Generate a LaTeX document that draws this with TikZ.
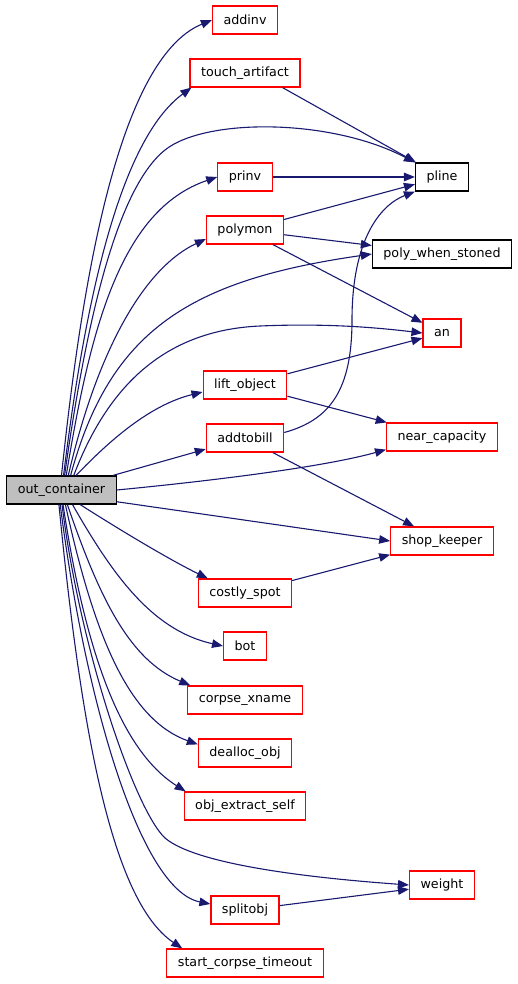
\documentclass[tikz,border=0pt]{standalone}
\usepackage{fontspec}
\setmainfont{DejaVu Sans}
\usetikzlibrary{arrows.meta}
\definecolor{edgeblue}{RGB}{25,25,112}
\definecolor{rootgray}{RGB}{191,191,191}

\begin{document}
\begin{tikzpicture}[
  x=1pt, y=-1pt,
  every node/.style={font=\fontsize{12.7}{15}\selectfont},
  fnbox/.style={rectangle, draw=red, line width=1.2pt, minimum height=28pt,
    inner xsep=11pt, inner ysep=3pt, fill=white},
  extbox/.style={fnbox, draw=black},
  rootbox/.style={fnbox, draw=black, fill=rootgray},
  call/.style={draw=edgeblue, line width=1.1pt,
    -{Triangle[length=11pt,width=8.5pt]}},
]
\useasboundingbox (0,0) rectangle (517,984);

% Caller
\node[rootbox] (oc) at (61.5,490) {out\_container};

% Direct callees
\node[fnbox] (addinv) at (245,20) {addinv};
\node[fnbox] (touchart) at (245,73) {touch\_artifact};
\node[fnbox] (prinv) at (245,177) {prinv};
\node[fnbox] (polymon) at (245,230) {polymon};
\node[fnbox] (liftobj) at (245,385) {lift\_object};
\node[fnbox] (addtobill) at (245,438) {addtobill};
\node[fnbox] (costly) at (245,593) {costly\_spot};
\node[fnbox] (bot) at (245,646) {bot};
\node[fnbox] (corpsex) at (245,700) {corpse\_xname};
\node[fnbox] (dealloc) at (245,753) {dealloc\_obj};
\node[fnbox] (objextract) at (245,806) {obj\_extract\_self};
\node[fnbox] (splitobj) at (245,910) {splitobj};
\node[fnbox] (startcorpse) at (245,963) {start\_corpse\_timeout};

% Shared callees
\node[extbox] (pline) at (442,177) {pline};
\node[extbox] (pws) at (442,254) {poly\_when\_stoned};
\node[fnbox] (an) at (442,333) {an};
\node[fnbox] (nearcap) at (442,437) {near\_capacity};
\node[fnbox] (shopkeeper) at (442,541) {shop\_keeper};
\node[fnbox] (weight) at (442,885) {weight};

% Upper fan from out_container
\draw[call] (oc.north) .. controls (80,300) and (115,60) .. (addinv.west);
\draw[call] (oc.82) .. controls (85,300) and (120,140) .. ([xshift=2pt]touchart.south west);
\draw[call] (oc.78) .. controls (85,330) and (115,190) .. (165,150)
  .. controls (205,118) and (330,118) .. (pline.north west);
\draw[call] (oc.72) .. controls (90,330) and (120,210) .. (prinv.west);
\draw[call] (oc.65) .. controls (95,360) and (140,270) .. ([yshift=-9pt]polymon.west);
\draw[call] (oc.58) .. controls (110,330) and (190,280) .. (pws.west);
\draw[call] (oc.50) .. controls (110,380) and (170,330) .. (260,326)
  .. controls (330,323) and (380,328) .. (an.west);
\draw[call] (oc.45) .. controls (110,440) and (150,405) .. ([yshift=-7pt]liftobj.west);
\draw[call] (oc) -- (addtobill);
\draw[call] (oc.east) .. controls (200,482) and (320,468) .. ([yshift=2pt]nearcap.south west);
\draw[call] (oc.-12) -- (shopkeeper.west);

% Lower fan from out_container
\draw[call] (oc.-38) .. controls (120,530) and (170,560) .. ([xshift=10pt]costly.north west);
\draw[call] (oc.-53) .. controls (110,570) and (150,630) .. (bot.west);
\draw[call] (oc.-68) .. controls (100,600) and (130,660) .. ([xshift=3pt]corpsex.north west);
\draw[call] (oc.-75) .. controls (95,640) and (130,720) .. ([yshift=-6pt]dealloc.north west);
\draw[call] (oc.-84) .. controls (85,650) and (120,750) .. ([xshift=2pt]objextract.north west);
\draw[call] (oc.-88) .. controls (80,650) and (135,810) .. (165,838)
  .. controls (200,868) and (340,880) .. (weight.west);
\draw[call] (oc.-95) .. controls (85,700) and (140,890) .. ([yshift=6pt]splitobj.west);
\draw[call] (oc.-100) .. controls (80,720) and (110,900) .. ([xshift=16pt]startcorpse.north west);

% Calls between callees
\draw[call] ([xshift=-18pt]touchart.south east) -- (pline);
\draw[call] (prinv) -- (pline);
\draw[call] (polymon) -- (pline);
\draw[call] (polymon) -- (pws);
\draw[call] (polymon) -- (an);
\draw[call] (liftobj) -- (an);
\draw[call] (liftobj) -- (nearcap);
\draw[call] (addtobill.8) .. controls (330,420) and (352,390) .. (352,320)
  .. controls (352,240) and (380,205) .. (pline.south west);
\draw[call] (addtobill) -- (shopkeeper);
\draw[call] (costly) -- (shopkeeper);
\draw[call] (splitobj) -- (weight);

\end{tikzpicture}
\end{document}
